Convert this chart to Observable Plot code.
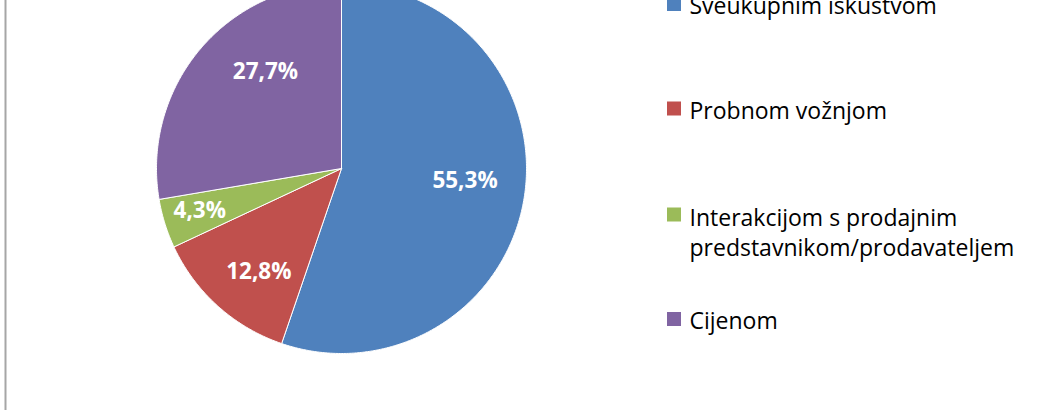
<!DOCTYPE html>
<html>
<head>
<meta charset="utf-8">
<script src="https://cdn.jsdelivr.net/npm/d3@7"></script>
<script src="https://cdn.jsdelivr.net/npm/@observablehq/plot@0.6"></script>
<style>
  html, body { margin: 0; padding: 0; background: #ffffff; }
  #chart svg { display: block; }
</style>
</head>
<body>
<div id="chart"></div>
<script>
// ---- data ----
const categories = [
  "Sveukupnim iskustvom",
  "Probnom vožnjom",
  "Interakcijom s prodajnim\npredstavnikom/prodavateljem",
  "Cijenom"
];
const values = [55.3, 12.8, 4.3, 27.7];
const valueLabels = ["55,3%", "12,8%", "4,3%", "27,7%"];
const colors = ["#4F81BD", "#C0504D", "#9BBB59", "#8064A2"];

// ---- layout ----
const W = 1038, H = 410;
const cx = 341, cy = 168, R = 185;
const labelR = [0.671, 0.713, 0.80, 0.666];      // label distance (fraction of radius)
const labelTurn = [-3.8, -3.1, 0.6, 11.7];       // label angle shift from mid-angle (deg)
const legendX = 667, legendSq = 14, legendTextX = 689;
const legendCenters = [4, 108.5, 214.5, 319];
const font = "'Open Sans', 'DejaVu Sans', sans-serif";

const pie = d3.pie().sort(null).value(d => d)(values);

// polygon points of each slice (angle 0 = 12 o'clock, clockwise)
const slicePts = [];
pie.forEach((p, i) => {
  const n = Math.max(2, Math.ceil((p.endAngle - p.startAngle) / (Math.PI / 360)));
  slicePts.push({k: i, x: cx, y: cy});
  for (let j = 0; j <= n; j++) {
    const a = p.startAngle + (p.endAngle - p.startAngle) * j / n;
    slicePts.push({k: i, x: cx + R * Math.sin(a), y: cy - R * Math.cos(a)});
  }
  slicePts.push({k: i, x: cx, y: cy});
});

const labelPts = pie.map((p, i) => {
  const a = (p.startAngle + p.endAngle) / 2 + labelTurn[i] * Math.PI / 180;
  return {k: i, x: cx + labelR[i] * R * Math.sin(a), y: cy - labelR[i] * R * Math.cos(a), t: valueLabels[i]};
});

const legend = categories.map((c, i) => ({k: i, name: c, yc: legendCenters[i]}));

const chart = Plot.plot({
  width: W,
  height: H,
  margin: 0,
  x: {domain: [0, W], range: [0, W], axis: null},
  y: {domain: [0, H], range: [0, H], axis: null},
  color: {domain: d3.range(categories.length), range: colors},
  style: {fontFamily: font, background: "#ffffff"},
  marks: [
    Plot.ruleX([5], {stroke: "#a6a6a6", strokeWidth: 2, y1: 0, y2: H}),
    Plot.line(slicePts, {
      x: "x", y: "y", z: "k", fill: "k",
      stroke: "#ffffff", strokeWidth: 1, strokeLinejoin: "round", curve: "linear-closed"
    }),
    Plot.text(labelPts, {
      x: "x", y: "y", text: "t", fill: "#ffffff",
      fontSize: 22.5, fontWeight: "bold", fontFamily: font
    }),
    Plot.rect(legend, {
      x1: () => legendX, x2: () => legendX + legendSq,
      y1: d => d.yc - legendSq / 2, y2: d => d.yc + legendSq / 2,
      fill: "k"
    }),
    Plot.text(legend, {
      x: () => legendTextX, y: d => d.name.includes("\n") ? d.yc + 16 : d.yc + 0.3,
      text: "name", textAnchor: "start", lineHeight: 1.3,
      fill: "#000000", fontSize: 23, fontFamily: font
    })
  ]
});
document.getElementById("chart").appendChild(chart);
</script>
</body>
</html>
